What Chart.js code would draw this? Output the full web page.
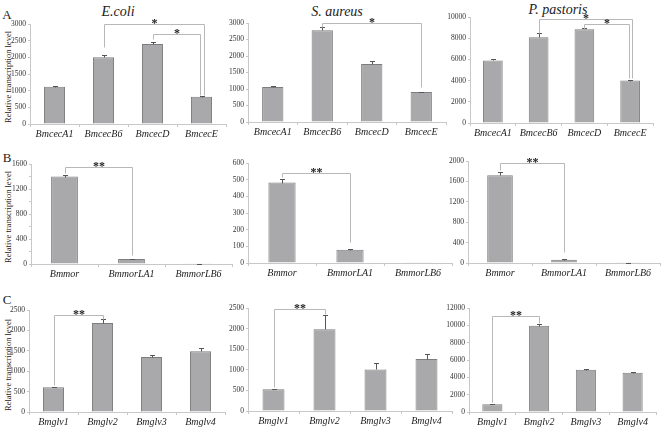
<!DOCTYPE html>
<html>
<head>
<meta charset="utf-8">
<script src="https://cdn.jsdelivr.net/npm/chart.js@4"></script>
<style>
  body { margin: 0; background: #fff; width: 661px; height: 428px; position: relative; overflow: hidden; font-family: 'Liberation Serif', serif; }
  .panel { position: absolute; }
  .lbl { position: absolute; transform: translate(-50%, -50%); white-space: nowrap; color: #222; }
  .title { font-style: italic; font-size: 14px; }
  .letter { font-size: 13px; }
  .ytitle { font-size: 8.5px; transform: translate(-50%, -50%) rotate(-90deg); }
</style>
</head>
<body>
<div class="lbl letter" style="left:7px;top:15px">A</div>
<div class="lbl letter" style="left:7px;top:158px">B</div>
<div class="lbl letter" style="left:7px;top:300px">C</div>
<div class="lbl title" style="left:118px;top:12px">E.coli</div>
<div class="lbl title" style="left:337px;top:12px">S. aureus</div>
<div class="lbl title" style="left:558px;top:10px">P. pastoris</div>
<div class="lbl ytitle" style="left:8px;top:77px">Relative transcription level</div>
<div class="lbl ytitle" style="left:8px;top:217px">Relative transcription level</div>
<div class="lbl ytitle" style="left:8px;top:365px">Relative transcription level</div>

<div class="panel" id="pA1"><canvas id="cA1"></canvas></div>
<div class="panel" id="pA2"><canvas id="cA2"></canvas></div>
<div class="panel" id="pA3"><canvas id="cA3"></canvas></div>
<div class="panel" id="pB1"><canvas id="cB1"></canvas></div>
<div class="panel" id="pB2"><canvas id="cB2"></canvas></div>
<div class="panel" id="pB3"><canvas id="cB3"></canvas></div>
<div class="panel" id="pC1"><canvas id="cC1"></canvas></div>
<div class="panel" id="pC2"><canvas id="cC2"></canvas></div>
<div class="panel" id="pC3"><canvas id="cC3"></canvas></div>

<script>
// categories
const cecGenes = ['BmcecA1', 'BmcecB6', 'BmcecD', 'BmcecE'];
const morGenes = ['Bmmor', 'BmmorLA1', 'BmmorLB6'];
const glvGenes = ['Bmglv1', 'Bmglv2', 'Bmglv3', 'Bmglv4'];

// row A - cecropins
const cecEcoli = [1120, 2000, 2400, 820];
const cecEcoliErr = [30, 60, 60, 10];
const cecSaureus = [1060, 2780, 1760, 910];
const cecSaureusErr = [20, 100, 90, 10];
const cecPastoris = [5900, 8100, 8850, 4000];
const cecPastorisErr = [150, 350, 100, 50];

// row B - moricins
const morEcoli = [1400, 80, 3];
const morEcoliErr = [25, 5, 1];
const morSaureus = [483, 79, 1];
const morSaureusErr = [24, 8, 0];
const morPastoris = [1720, 65, 3];
const morPastorisErr = [70, 5, 1];

// row C - gloverins
const glvEcoli = [605, 2180, 1350, 1490];
const glvEcoliErr = [20, 100, 50, 80];
const glvSaureus = [525, 1985, 1010, 1260];
const glvSaureusErr = [20, 340, 145, 135];
const glvPastoris = [885, 9960, 4880, 4540];
const glvPastorisErr = [30, 230, 115, 80];

// significance brackets: [from, to, level, left leg end, right leg end, mark]
const sigA1 = [[1, 3, 2990, 2320, 870, '*'], [2, 3, 2700, 2540, 870, '*']];
const sigA2 = [[1, 3, 3000, 2880, 1070, '*']];
const sigA3 = [[1, 3, 9840, 8480, 4270, '*'], [2, 3, 9370, 8900, 4270, '*']];
const sigB1 = [[0, 1, 1557, 1452, 150, '**']];
const sigB2 = [[0, 1, 542, 516, 129, '**']];
const sigB3 = [[0, 1, 1967, 1817, 216, '**']];
const sigC1 = [[0, 1, 2377, 656, 2270, '**']];
const sigC2 = [[0, 1, 2468, 589, 2363, '**']];
const sigC3 = [[0, 1, 11040, 1150, 10270, '**']];

// axis ranges
const yMax = { A1: 3000, A2: 3000, A3: 10000, B1: 1600, B2: 600, B3: 2000, C1: 2500, C2: 2500, C3: 12000 };

const AXIS = '#c8c8c8';
const PADT = 14, AXW = 30, XH = 24;

// error bars + brackets drawn through the chart scales
const annotate = {
  id: 'annotate',
  afterDatasetsDraw(chart, args, opts) {
    const ctx = chart.ctx, ys = chart.scales.y, xs = chart.scales.x;
    const meta = chart.getDatasetMeta(0);
    const vals = chart.data.datasets[0].data;
    const r = v => Math.round(v) + 0.5;
    ctx.save();
    ctx.lineWidth = 1;
    ctx.strokeStyle = '#555';
    opts.errors.forEach((e, i) => {
      if (!e) return;
      const px = r(meta.data[i].x);
      const y0 = r(ys.getPixelForValue(vals[i]));
      const y1 = r(ys.getPixelForValue(vals[i] + e));
      ctx.beginPath();
      ctx.moveTo(px, y0); ctx.lineTo(px, y1);
      ctx.moveTo(px - 2.5, y1); ctx.lineTo(px + 2.5, y1);
      ctx.stroke();
    });
    ctx.strokeStyle = '#b8b8b8';
    opts.brackets.forEach((b, k) => {
      const [i, j, lvl, dl, dr, mark] = b;
      const xl = r(xs.getPixelForValue(i));
      const xr = r(xs.getPixelForValue(j) + (opts.shift ? opts.shift[k] : 0));
      const yl = r(ys.getPixelForValue(lvl));
      ctx.beginPath();
      ctx.moveTo(xl, r(ys.getPixelForValue(dl)));
      ctx.lineTo(xl, yl);
      ctx.lineTo(xr, yl);
      ctx.lineTo(xr, r(ys.getPixelForValue(dr)));
      ctx.stroke();
      ctx.fillStyle = '#222';
      ctx.font = 'bold 12px "Liberation Serif"';
      ctx.textAlign = 'center';
      ctx.textBaseline = 'middle';
      ctx.fillText(mark, (xl + xr) / 2, yl - 1);
    });
    ctx.restore();
  }
};

function panel(key, box, labels, values, errors, step, brackets, shift, minor) {
  const wrap = document.getElementById('p' + key);
  wrap.style.left = (box[0] - AXW) + 'px';
  wrap.style.top = (box[2] - PADT) + 'px';
  wrap.style.width = (box[1] - box[0] + AXW + 1) + 'px';
  wrap.style.height = (box[3] - box[2] + PADT + XH) + 'px';
  new Chart(document.getElementById('c' + key), {
    type: 'bar',
    data: {
      labels: labels,
      datasets: [{
        data: values,
        backgroundColor: '#a9a9ab',
        borderColor: '#7d7d7d',
        borderWidth: { top: 1, left: 1, right: 1, bottom: 0 },
        categoryPercentage: 1,
        barPercentage: labels.length === 3 ? 0.4 : 0.43,
      }]
    },
    options: {
      responsive: true, maintainAspectRatio: false, animation: false,
      layout: { padding: { top: PADT, right: 1, left: 0, bottom: 0 } },
      plugins: {
        legend: { display: false }, tooltip: { enabled: false },
        annotate: { errors: errors, brackets: brackets, shift: shift }
      },
      scales: {
        x: {
          afterFit: s => { s.height = XH; },
          border: { color: AXIS },
          grid: { drawOnChartArea: false, color: AXIS, tickLength: 3, offset: true },
          ticks: { color: '#222', padding: 1, maxRotation: 0, font: { family: 'Liberation Serif', style: 'italic', size: 10 } }
        },
        y: {
          min: 0, max: yMax[key],
          afterFit: s => { s.width = AXW; },
          border: { color: AXIS },
          grid: { drawOnChartArea: false, color: AXIS, tickLength: 2 },
          ticks: {
            stepSize: minor || step, color: '#333', padding: 2,
            font: { family: 'Liberation Serif', size: 7.5 },
            callback: v => (v % step === 0 ? String(v) : '')
          }
        }
      }
    },
    plugins: [annotate]
  });
}

panel('A1', [30, 226, 24, 124], cecGenes, cecEcoli, cecEcoliErr, 500, sigA1, [2, -2]);
panel('A2', [248, 446, 23, 122], cecGenes, cecSaureus, cecSaureusErr, 500, sigA2, [0]);
panel('A3', [470, 653, 17, 123], cecGenes, cecPastoris, cecPastorisErr, 2000, sigA3, [2, -1]);
panel('B1', [31, 232, 164, 264], morGenes, morEcoli, morEcoliErr, 400, sigB1, [0], 200);
panel('B2', [248, 452, 163, 263], morGenes, morSaureus, morSaureusErr, 100, sigB2, [0]);
panel('B3', [468, 660, 161, 263], morGenes, morPastoris, morPastorisErr, 400, sigB3, [0], 200);
panel('C1', [29, 225, 310, 412], glvGenes, glvEcoli, glvEcoliErr, 500, sigC1, [0]);
panel('C2', [248, 452, 308, 411], glvGenes, glvSaureus, glvSaureusErr, 500, sigC2, [0]);
panel('C3', [469, 656, 308, 412], glvGenes, glvPastoris, glvPastorisErr, 2000, sigC3, [0]);
</script>
</body>
</html>
